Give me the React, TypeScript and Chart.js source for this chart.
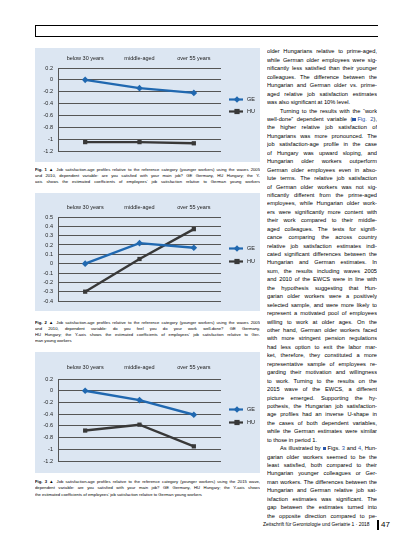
import React, { useEffect, useRef } from "react";
import { Chart, registerables } from "chart.js";

Chart.register(...registerables);

// ---------- chart data ----------
const categories = ["below 30 years", "middle-aged", "over 55 years"];
const seriesNames = ["GE", "HU"];

const fig1GE = [0, -0.14, -0.22];
const fig1HU = [-1.05, -1.05, -1.07];
const fig1Ticks = [0.2, 0, -0.2, -0.4, -0.6, -0.8, -1, -1.2];

const fig2GE = [0, 0.22, 0.17];
const fig2HU = [-0.3, 0.05, 0.37];
const fig2Ticks = [0.5, 0.4, 0.3, 0.2, 0.1, 0, -0.1, -0.2, -0.3, -0.4];

const fig3GE = [0, -0.16, -0.41];
const fig3HU = [-0.68, -0.58, -0.95];
const fig3Ticks = [0.2, 0, -0.2, -0.4, -0.6, -0.8, -1, -1.2];

// ---------- text ----------
const caption1 = [
  "Fig. 1 ▲ Job satisfaction-age profiles relative to the reference category (younger workers) using the waves 2005",
  "and 2010, dependent variable: are you satisfied with your main job? GE Germany, HU Hungary; the Y-",
  "axis shows the estimated coefficients of employees’ job satisfaction relative to German young workers",
];
const caption2 = [
  "Fig. 2 ▲ Job satisfaction-age profiles relative to the reference category (younger workers) using the waves 2005",
  "and 2010, dependent variable: do you feel you do your work well-done? GE Germany,",
  "HU Hungary; the Y-axis shows the estimated coefficients of employees’ job satisfaction relative to Ger-",
  "man young workers",
];
const caption3 = [
  "Fig. 3 ▲ Job satisfaction-age profiles relative to the reference category (younger workers) using the 2015 wave,",
  "dependent variable: are you satisfied with your main job? GE Germany, HU Hungary; the Y-axis shows",
  "the estimated coefficients of employees’ job satisfaction relative to German young workers",
];

const bodyLines = [
  "older Hungarians relative to prime-aged,",
  "while German older employees were sig-",
  "nificantly less satisfied than their younger",
  "colleagues. The difference between the",
  "Hungarian and German older vs. prime-",
  "aged relative job satisfaction estimates",
  "was also significant at 10% level.",
  "Turning to the results with the “work",
  "well-done” dependent variable ({B}[Fig. 2]),",
  "the higher relative job satisfaction of",
  "Hungarians was more pronounced. The",
  "job satisfaction-age profile in the case",
  "of Hungary was upward sloping, and",
  "Hungarian older workers outperform",
  "German older employees even in abso-",
  "lute terms. The relative job satisfaction",
  "of German older workers was not sig-",
  "nificantly different from the prime-aged",
  "employees, while Hungarian older work-",
  "ers were significantly more content with",
  "their work compared to their middle-",
  "aged colleagues. The tests for signifi-",
  "cance comparing the across country",
  "relative job satisfaction estimates indi-",
  "cated significant differences between the",
  "Hungarian and German estimates. In",
  "sum, the results including waves 2005",
  "and 2010 of the EWCS were in line with",
  "the hypothesis suggesting that Hun-",
  "garian older workers were a positively",
  "selected sample, and were more likely to",
  "represent a motivated pool of employees",
  "willing to work at older ages. On the",
  "other hand, German older workers faced",
  "with more stringent pension regulations",
  "had less option to exit the labor mar-",
  "ket, therefore, they constituted a more",
  "representative sample of employees re-",
  "garding their motivation and willingness",
  "to work. Turning to the results on the",
  "2015 wave of the EWCS, a different",
  "picture emerged. Supporting the hy-",
  "pothesis, the Hungarian job satisfaction-",
  "age profiles had an inverse U-shape in",
  "the cases of both dependent variables,",
  "while the German estimates were similar",
  "to those in period 1.",
  "As illustrated by {B}Figs. [3] and [4], Hun-",
  "garian older workers seemed to be the",
  "least satisfied, both compared to their",
  "Hungarian younger colleagues or Ger-",
  "man workers. The differences between the",
  "Hungarian and German relative job sat-",
  "isfaction estimates was significant. The",
  "gap between the estimates turned into",
  "the opposite direction compared to pe-",
];
const paragraphEnds = [6, 46];
const paragraphStarts = [7, 47];

// ---------- styles ----------
const GE_COLOR = "#2068b0";
const HU_COLOR = "#383838";
const GRID_COLOR = "#555555";
const PANEL_BG = "#dce6f2";
const LINK = "#2b55a8";
const CHART_FONT = { family: "'Liberation Sans', Arial, sans-serif", size: 5.5 };

const sideLegend = {
  id: "sideLegend",
  afterDraw(chart: any) {
    const { ctx, chartArea } = chart;
    const cy = (chartArea.top + chartArea.bottom) / 2;
    chart.data.datasets.forEach((ds: any, i: number) => {
      const y = Math.round(cy - 11 + i * 12.5) + 0.5;
      const x0 = chartArea.right + 8;
      ctx.save();
      ctx.strokeStyle = ds.borderColor;
      ctx.fillStyle = ds.borderColor;
      ctx.lineWidth = 2.2;
      ctx.beginPath();
      ctx.moveTo(x0, y);
      ctx.lineTo(x0 + 14, y);
      ctx.stroke();
      const mx = x0 + 8;
      ctx.beginPath();
      if (ds.pointStyle === "rectRot") {
        ctx.moveTo(mx, y - 3.2);
        ctx.lineTo(mx + 3.2, y);
        ctx.lineTo(mx, y + 3.2);
        ctx.lineTo(mx - 3.2, y);
        ctx.closePath();
      } else {
        ctx.rect(mx - 2.6, y - 2.6, 5.2, 5.2);
      }
      ctx.fill();
      ctx.fillStyle = "#222";
      ctx.font = `${CHART_FONT.size}px ${CHART_FONT.family}`;
      ctx.textBaseline = "middle";
      ctx.textAlign = "left";
      ctx.fillText(ds.label, x0 + 18, y);
      ctx.restore();
    });
  },
};

type ChartProps = {
  ge: number[];
  hu: number[];
  ticks: number[];
  width: number;
  height: number;
  topH: number;
  bottomPad: number;
  labelPad: number;
};

function AgeChart({ ge, hu, ticks, width, height, topH, bottomPad, labelPad }: ChartProps) {
  const ref = useRef<HTMLCanvasElement>(null);
  useEffect(() => {
    const chart = new Chart(ref.current as HTMLCanvasElement, {
      type: "line",
      data: {
        labels: categories,
        datasets: [
          {
            label: seriesNames[0],
            data: ge,
            borderColor: GE_COLOR,
            backgroundColor: GE_COLOR,
            borderWidth: 2.4,
            pointStyle: "rectRot",
            pointRadius: 3.3,
            pointBorderWidth: 0,
            tension: 0,
          },
          {
            label: seriesNames[1],
            data: hu,
            borderColor: HU_COLOR,
            backgroundColor: HU_COLOR,
            borderWidth: 2.4,
            pointStyle: "rect",
            pointRadius: 3,
            pointBorderWidth: 0,
            tension: 0,
          },
        ],
      },
      options: {
        responsive: false,
        animation: false,
        layout: { padding: { left: 0, right: 39, top: 0, bottom: bottomPad } },
        plugins: { legend: { display: false }, tooltip: { enabled: false } },
        scales: {
          x: {
            position: "top",
            offset: true,
            grid: { display: false, drawTicks: false },
            border: { display: false },
            ticks: {
              font: CHART_FONT,
              color: "#222",
              padding: labelPad,
              maxRotation: 0,
              autoSkip: false,
            },
            afterFit: (s: any) => {
              s.height = topH;
            },
          },
          y: {
            min: ticks[ticks.length - 1],
            max: ticks[0],
            afterBuildTicks: (s: any) => {
              s.ticks = ticks.map((v) => ({ value: v }));
            },
            ticks: {
              font: CHART_FONT,
              color: "#222",
              padding: 5,
              autoSkip: false,
              callback: (v: any) => String(v),
            },
            grid: { color: GRID_COLOR, lineWidth: 1, drawTicks: false },
            border: { color: GRID_COLOR, width: 1 },
            afterFit: (s: any) => {
              s.width = 23;
            },
          },
        },
      } as any,
      plugins: [sideLegend],
    });
    return () => chart.destroy();
  }, []);
  return <canvas ref={ref} width={width} height={height} style={{ display: "block" }} />;
}

function renderRich(text: string) {
  const parts = text.split(/(\{B\}|\[[^\]]+\])/);
  return parts.map((p, i) => {
    if (p === "{B}")
      return (
        <span
          key={i}
          style={{
            display: "inline-block",
            width: 3.5,
            height: 3.5,
            background: LINK,
            marginRight: 1.5,
            verticalAlign: "baseline",
          }}
        />
      );
    if (p.startsWith("[") && p.endsWith("]"))
      return (
        <span key={i} style={{ color: LINK }}>
          {p.slice(1, -1)}
        </span>
      );
    return <React.Fragment key={i}>{p}</React.Fragment>;
  });
}

function TextLine({
  text,
  top,
  left,
  width,
  size,
  lh,
  justify,
  indent,
}: {
  text: string;
  top: number;
  left: number;
  width: number;
  size: number;
  lh: number;
  justify: boolean;
  indent?: number;
}) {
  return (
    <div
      style={{
        position: "absolute",
        top: top - lh / 2,
        left,
        width,
        height: lh,
        lineHeight: `${lh}px`,
        fontSize: size,
        whiteSpace: "nowrap",
        overflow: "hidden",
        textAlign: justify ? "justify" : "left",
        textAlignLast: justify ? "justify" : "left",
        paddingLeft: indent || 0,
        boxSizing: "border-box",
        color: "#000",
      } as any}
    >
      {renderRich(text)}
    </div>
  );
}

function Caption({ lines, top, step, lastJustified }: { lines: string[]; top: number; step: number; lastJustified: boolean }) {
  return (
    <>
      {lines.map((l, i) => {
        const m = l.match(/^(Fig\. \d ▲)(.*)$/);
        const just = i < lines.length - 1 || lastJustified;
        return (
          <div
            key={i}
            style={{
              position: "absolute",
              top: top + i * step - step / 2,
              left: 35,
              width: 225,
              height: step,
              lineHeight: `${step}px`,
              fontSize: 4.2,
              whiteSpace: "nowrap",
              overflow: "hidden",
              textAlign: "justify",
              textAlignLast: just ? "justify" : "left",
              color: "#000",
            } as any}
          >
            {m ? (
              <>
                <b>{m[1]}</b>
                {m[2]}
              </>
            ) : (
              l
            )}
          </div>
        );
      })}
    </>
  );
}

export default function App() {
  const bodyTop = 51.7;
  const bodyStep = 8.44;
  return (
    <div
      style={{
        position: "absolute",
        left: 0,
        top: 0,
        width: 413,
        height: 550,
        background: "#fff",
        overflow: "hidden",
        fontFamily: "'Liberation Sans', Arial, sans-serif",
        color: "#111",
      }}
    >
      {/* header box */}
      <div
        style={{
          position: "absolute",
          left: 35,
          top: 25,
          width: 343,
          height: 12,
          borderTop: "1px solid #000",
          borderLeft: "1px solid #000",
          borderBottom: "1px solid #000",
          boxSizing: "border-box",
        }}
      />

      {/* Figure 1 */}
      <div style={{ position: "absolute", left: 35, top: 48, width: 225, height: 114, background: PANEL_BG }}>
        <AgeChart ge={fig1GE} hu={fig1HU} ticks={fig1Ticks} width={225} height={114} topH={20} bottomPad={11} labelPad={6} />
      </div>
      <Caption lines={caption1} top={170.3} step={5.7} lastJustified={true} />

      {/* Figure 2 */}
      <div style={{ position: "absolute", left: 35, top: 193, width: 225, height: 118, background: PANEL_BG }}>
        <AgeChart ge={fig2GE} hu={fig2HU} ticks={fig2Ticks} width={225} height={118} topH={24} bottomPad={10} labelPad={6} />
      </div>
      <Caption lines={caption2} top={323.3} step={6} lastJustified={false} />

      {/* Figure 3 */}
      <div style={{ position: "absolute", left: 35, top: 352, width: 225, height: 121, background: PANEL_BG }}>
        <AgeChart ge={fig3GE} hu={fig3HU} ticks={fig3Ticks} width={225} height={121} topH={27} bottomPad={12} labelPad={8} />
      </div>
      <Caption lines={caption3} top={482.3} step={6.3} lastJustified={false} />

      {/* body text */}
      {bodyLines.map((t, i) => (
        <TextLine
          key={i}
          text={t}
          top={bodyTop + i * bodyStep}
          left={267}
          width={110}
          size={5.7}
          lh={bodyStep}
          justify={!paragraphEnds.includes(i)}
          indent={paragraphStarts.includes(i) ? 13 : 0}
        />
      ))}

      {/* footer */}
      <div
        style={{
          position: "absolute",
          left: 263,
          top: 521,
          height: 8,
          lineHeight: "8px",
          fontSize: 4.9,
          whiteSpace: "nowrap",
          color: "#000",
        }}
      >
        Zeitschrift für Gerontologie und Geriatrie 1 · 2018
      </div>
      <div style={{ position: "absolute", left: 377, top: 520, width: 2, height: 10, background: "#000" }} />
      <div
        style={{
          position: "absolute",
          left: 381,
          top: 520,
          height: 10,
          lineHeight: "10px",
          fontSize: 8,
          whiteSpace: "nowrap",
          color: "#000",
        }}
      >
        47
      </div>
    </div>
  );
}
